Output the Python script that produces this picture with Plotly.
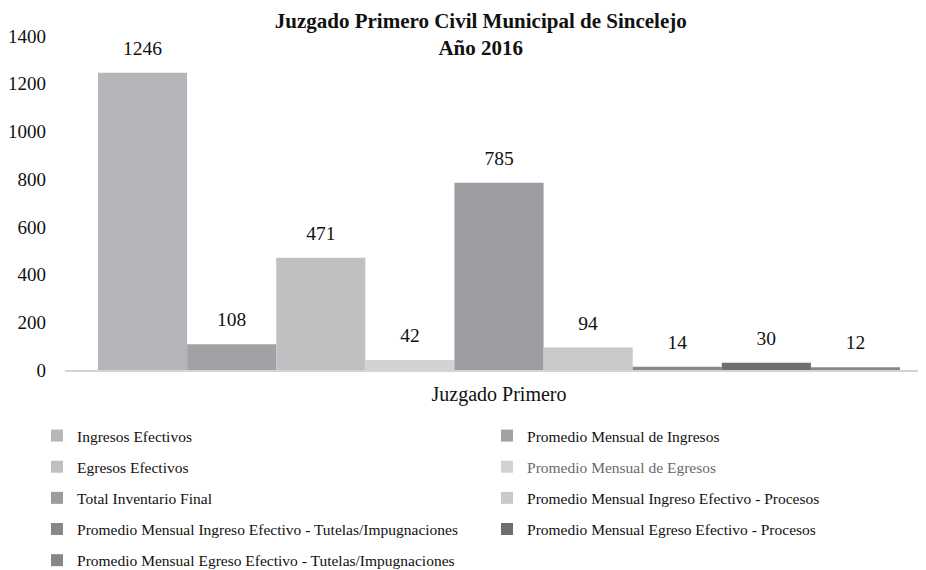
import plotly.graph_objects as go

categories = ["Juzgado Primero"]
series_names = [
    "Ingresos Efectivos",
    "Promedio Mensual de Ingresos",
    "Egresos Efectivos",
    "Promedio Mensual de Egresos",
    "Total Inventario Final",
    "Promedio Mensual Ingreso Efectivo - Procesos",
    "Promedio Mensual Ingreso Efectivo - Tutelas/Impugnaciones",
    "Promedio Mensual Egreso Efectivo - Procesos",
    "Promedio Mensual Egreso Efectivo - Tutelas/Impugnaciones",
]
series_values = [1246, 108, 471, 42, 785, 94, 14, 30, 12]
series_colors = ["#b5b6b9", "#a1a2a5", "#bfc0c2", "#d1d2d4", "#9c9da0",
                 "#c8c9cb", "#87888b", "#6d6e71", "#86878a"]
legend_cols = ["legend", "legend2", "legend", "legend2", "legend",
               "legend2", "legend", "legend2", "legend"]
y_ticks = [0, 200, 400, 600, 800, 1000, 1200, 1400]

FONT = "Liberation Serif, Times New Roman, serif"

fig = go.Figure()
for i, (name, val, col, lg) in enumerate(zip(series_names, series_values, series_colors, legend_cols)):
    label_name = name
    if name == "Promedio Mensual de Egresos":
        label_name = "<span style='color:#6a6a6a'>" + name + "</span>"
    fig.add_trace(go.Bar(
        x=categories, y=[val], name=label_name,
        marker=dict(color=col, line=dict(width=0)),
        texttemplate="<span style='font-size:19.5px'>%{y}</span><br> ",
        textposition="outside",
        textfont=dict(family=FONT, size=10, color="#111111"),
        cliponaxis=False,
        legend=lg, legendgroup=f"g{i}",
    ))

fig.update_layout(
    width=918, height=562,
    margin=dict(l=57, r=0, t=28, b=200, autoexpand=False),
    paper_bgcolor="white", plot_bgcolor="white",
    barmode="group", bargap=0.076, bargroupgap=0,
    font=dict(family=FONT, color="#111111"),
    title=dict(
        text="<b>Juzgado Primero Civil Municipal de Sincelejo<br>Año 2016</b>",
        x=0.515, xanchor="center", xref="container",
        y=0.965, yanchor="top", yref="container",
        font=dict(family=FONT, size=21, color="#111111"),
    ),
    xaxis=dict(
        type="category", range=[-0.5, 0.4919],
        showline=True, linecolor="#d4d4d4", linewidth=2,
        showgrid=False, ticks="", zeroline=False,
        tickfont=dict(family=FONT, size=20, color="#111111"),
        ticklabelstandoff=5,
    ),
    yaxis=dict(
        range=[0, 1400], tickvals=y_ticks,
        showgrid=False, zeroline=False, showline=False, ticks="",
        tickfont=dict(family=FONT, size=19, color="#111111"),
        ticklabelstandoff=18,
    ),
    legend=dict(
        orientation="v", x=0.0316, xanchor="left", xref="container",
        y=0.2687, yanchor="top", yref="container",
        font=dict(family=FONT, size=15.5, color="#111111"),
        tracegroupgap=8, bgcolor="rgba(0,0,0,0)",
    ),
    legend2=dict(
        orientation="v", x=0.5218, xanchor="left", xref="container",
        y=0.2687, yanchor="top", yref="container",
        font=dict(family=FONT, size=15.5, color="#111111"),
        tracegroupgap=8, bgcolor="rgba(0,0,0,0)",
    ),
)

fig.write_html("out.html")
